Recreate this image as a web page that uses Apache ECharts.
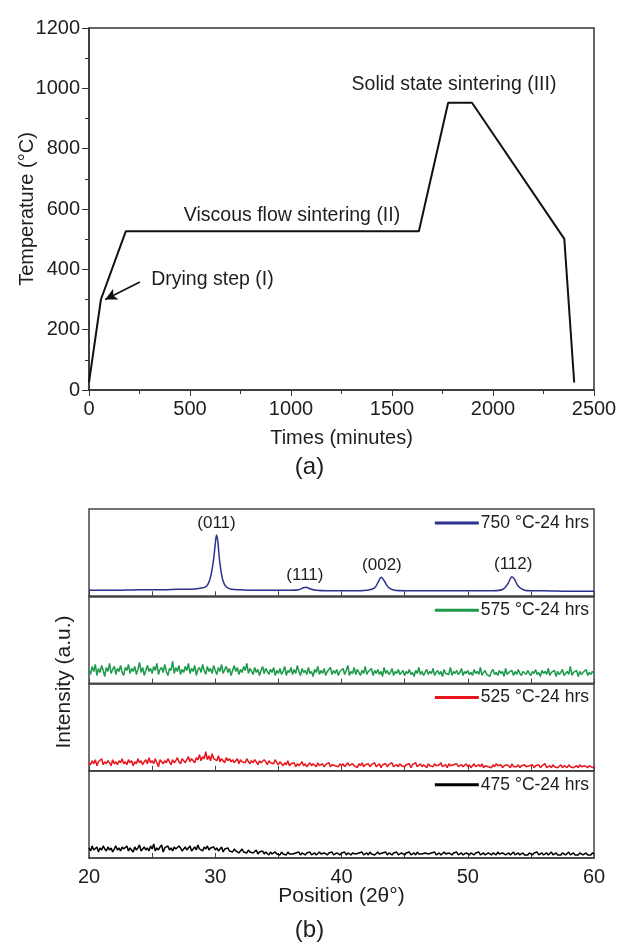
<!DOCTYPE html>
<html>
<head>
<meta charset="utf-8">
<script src="https://cdn.jsdelivr.net/npm/echarts@6/dist/echarts.min.js"></script>
<style>html,body{margin:0;padding:0;background:#fff;}#c{width:619px;height:948px;}</style>
</head>
<body>
<div id="c"></div>
<script>
// ---------- Panel (a): sintering profile ----------
const timeMin = [0, 59, 182, 1633, 1778, 1896, 2353, 2402];
const tempC   = [25, 300, 526, 526, 952, 952, 501, 25];
const stageLabels = ['Drying step (I)', 'Viscous flow sintering (II)', 'Solid state sintering (III)'];
const stageLabelX = [611, 1005, 1807];
const stageLabelY = [365, 577, 1011];
const arrowFrom = [252, 358];
const arrowTo = [80, 300];
const xTicksA = [0, 500, 1000, 1500, 2000, 2500];
const yTicksA = [0, 200, 400, 600, 800, 1000, 1200];

// ---------- Panel (b): XRD patterns ----------
const seriesNames = ['750 °C-24 hrs', '575 °C-24 hrs', '525 °C-24 hrs', '475 °C-24 hrs'];
const seriesColors = ['#2d3190', '#1c9a4a', '#e8141c', '#000000'];
const xTicksB = [20, 30, 40, 50, 60];
// 750 °C pattern (position, intensity)
const blueX = [20,22,24,26,27,28,28.8,29.3,29.6,29.85,30.0,30.1,30.2,30.35,30.6,30.9,31.3,32,33,34,35,36,36.6,37.0,37.2,37.5,38,39,40,41,42,42.6,42.9,43.15,43.4,43.7,44.2,45,46,48,50,52,52.8,53.2,53.5,53.7,54.0,54.5,55,56,58,60];
const blueY = [6,6,6.5,6.5,7,7,8,10,18,35,52,61,55,35,16,9,7,6.5,6,6,6,6,6.5,8.5,9,7.5,6,5.5,5.5,5.5,6,8,14,19,15,9,6,5.5,5.5,5.5,5.5,5.5,7,13,19.5,17,10,6,5.5,5.5,5,5];
const peakLabels = ['(011)', '(111)', '(002)', '(112)'];
const peakX = [30.1, 37.1, 43.2, 53.6];
const peakY = [61, 9, 19, 20];
// amorphous patterns sampled evenly from 20° to 60°
const green575 = [
14,9,17,12,19,8,15,11,18,13, 7,16,12,20,10,14,17,9,15,12, 18,11,8,16,13,19,10,15,12,17, 9,14,21,11,16,8,13,18,12,15,
10,17,13,20,9,14,16,11,19,12, 8,15,13,22,10,16,12,18,9,14, 11,17,13,20,10,15,12,18,8,14, 16,11,19,13,9,17,12,15,10,18,
13,9,16,12,19,10,14,17,11,15, 8,13,18,12,16,9,14,11,17,13, 20,10,15,12,9,16,11,14,8,13, 17,10,15,12,9,14,11,16,8,13,
10,15,9,12,17,8,13,11,16,9, 14,10,18,12,8,15,11,13,9,16, 10,12,7,14,11,17,9,13,10,15, 8,12,11,16,9,13,10,14,8,12,
11,15,9,13,18,8,12,10,16,9, 14,11,8,13,10,17,9,12,11,15, 8,13,10,14,9,12,7,16,10,13, 9,11,15,8,12,10,14,9,11,13,
8,12,10,14,9,11,7,13,10,16, 9,12,8,11,14,9,12,10,15,8, 11,13,9,12,7,14,10,11,9,16, 8,12,10,13,9,11,15,8,12,10,
13,9,11,8,14,10,12,9,16,8, 11,13,9,10,7,12,14,9,11,8, 13,10,12,7,15,9,11,10,13,8, 12,9,14,10,8,12,11,9,13,10,
8,12,10,14,9,11,7,13,10,12, 9,15,8,11,10,13,7,12,9,11, 14,8,10,12,9,17,8,11,10,13, 7,12,9,11,10,14,8,11,9,12,
10];
const red525 = [
8,6,10,7,11,5,9,8,12,6, 9,7,10,8,5,11,7,9,6,10, 8,12,7,9,6,11,8,10,5,9, 7,12,8,10,6,9,11,7,13,8,
10,7,12,8,4,11,9,7,10,8, 12,9,6,11,8,10,13,9,7,12, 10,8,11,14,9,12,10,8,13,11, 16,10,14,12,19,11,15,10,17,12,
13,10,15,9,12,11,8,13,10,12, 9,11,8,10,12,7,11,9,10,8, 12,9,7,10,8,11,9,6,10,8, 7,11,9,6,10,8,9,7,11,8,
6,9,7,5,8,6,10,5,7,6, 8,4,7,5,6,9,5,7,4,6, 8,5,7,6,4,8,5,6,7,4, 6,5,8,4,6,7,5,6,4,7,
5,7,4,6,8,5,4,7,5,6, 3,7,5,8,4,6,5,7,4,6, 5,8,4,5,7,3,6,5,7,4, 6,5,8,4,5,6,4,7,5,6,
4,6,5,7,3,6,5,8,4,5, 7,4,6,5,3,7,5,6,4,7, 5,4,6,8,4,5,6,3,7,5, 4,6,5,7,4,5,6,4,5,7,
4,6,3,5,7,4,5,6,4,7, 3,5,6,4,5,3,6,4,7,5, 4,6,3,5,4,6,5,3,7,4, 5,4,6,3,5,4,6,4,3,5,
4,6,3,5,4,6,3,5,4,7, 3,4,5,3,6,4,5,3,4,6, 3,5,4,3,6,4,5,3,4,5, 3,6,4,3,5,4,3,5,4,3,
4];
const black475 = [
10,7,12,8,9,11,6,10,8,12, 9,7,11,8,10,6,9,12,8,10, 7,11,9,8,12,7,10,9,6,11, 8,10,13,7,9,11,8,10,7,12,
9,14,7,10,8,11,13,6,10,9, 12,8,10,7,11,9,8,12,10,7, 9,11,8,10,12,7,9,11,8,13, 9,10,7,11,9,12,8,10,9,11,
8,10,7,9,11,6,9,8,10,7, 8,6,9,7,8,5,7,9,6,7, 5,8,6,7,5,6,8,4,6,5, 7,4,6,5,3,6,4,5,6,4,
5,3,6,4,5,3,6,4,5,4, 3,5,4,6,3,5,4,3,5,4, 6,3,4,5,3,4,6,4,3,5, 4,3,5,4,6,3,4,5,4,3,
5,4,6,3,5,4,3,5,6,4, 3,5,4,6,3,4,5,3,6,4, 5,3,4,6,4,3,5,4,6,3, 5,4,3,5,4,6,3,4,5,4,
3,5,4,6,3,4,5,3,6,4, 5,4,3,5,6,4,3,5,4,6, 3,4,5,3,4,6,4,3,5,4, 3,5,4,6,3,4,5,3,4,5,
4,3,5,4,3,5,4,6,3,4, 5,3,4,5,4,3,5,4,3,6, 4,3,5,4,3,4,5,3,4,6, 3,4,5,3,4,5,3,4,3,5,
4,3,5,4,6,3,4,5,3,4, 5,3,4,6,3,4,5,3,4,3, 5,4,3,4,6,3,4,5,3,4, 3,5,4,3,4,5,3,4,3,5,
4];

// ---------- build ----------
const FONT = '"Liberation Sans", Arial, sans-serif';
const TXT = '#1e1e1e';
const chart = echarts.init(document.getElementById('c'), null, {renderer: 'canvas'});

function pairs(xs, ys) { return xs.map((x, i) => [x, ys[i]]); }
function noisy(arr) {
  const x0 = xTicksB[0], x1 = xTicksB[xTicksB.length - 1];
  return arr.map((v, i) => [x0 + i * (x1 - x0) / (arr.length - 1), v]);
}

const panelTop0 = 509, panelH = 87.25;
const grids = [{left: 89, right: 25, top: 28, height: 362, show: true, borderColor: '#333', borderWidth: 1.5, outerBoundsMode: 'none', containLabel: false}];
for (let i = 0; i < 4; i++) {
  grids.push({left: 89, right: 25, top: panelTop0 + i * panelH, height: panelH, show: true, borderColor: '#444', borderWidth: 1.5, outerBoundsMode: 'none', containLabel: false});
}

const xAxes = [{
  gridIndex: 0, type: 'value', min: xTicksA[0], max: xTicksA[xTicksA.length - 1], interval: 500,
  axisLine: {lineStyle: {color: '#333', width: 1.5}},
  axisTick: {show: true, inside: false, length: 6, lineStyle: {color: '#333'}},
  minorTick: {show: true, splitNumber: 2, length: 4, lineStyle: {color: '#333'}},
  splitLine: {show: false},
  axisLabel: {fontSize: 20, color: TXT, fontFamily: FONT, margin: 9, formatter: v => String(v), showMinLabel: true, showMaxLabel: true, hideOverlap: false},
  name: 'Times (minutes)', nameLocation: 'middle', nameGap: 38, nameMoveOverlap: false,
  nameTextStyle: {fontSize: 20, color: TXT, fontFamily: FONT}
}];
const yAxes = [{
  gridIndex: 0, type: 'value', min: yTicksA[0], max: yTicksA[yTicksA.length - 1], interval: 200,
  axisLine: {lineStyle: {color: '#333', width: 1.5}},
  axisTick: {show: true, inside: false, length: 7, lineStyle: {color: '#333'}},
  minorTick: {show: true, splitNumber: 2, length: 4, lineStyle: {color: '#333'}},
  splitLine: {show: false},
  axisLabel: {fontSize: 20, color: TXT, fontFamily: FONT, margin: 9, formatter: v => String(v)},
  name: 'Temperature (°C)', nameLocation: 'middle', nameGap: 52, nameRotate: 90, nameMoveOverlap: false,
  nameTextStyle: {fontSize: 20, color: TXT, fontFamily: FONT}
}];
for (let i = 0; i < 4; i++) {
  const last = i === 3;
  xAxes.push({
    gridIndex: i + 1, type: 'value', min: xTicksB[0], max: xTicksB[xTicksB.length - 1], interval: 10,
    axisLine: {lineStyle: {color: '#444', width: 1.5}},
    axisTick: {show: true, inside: true, length: 5, lineStyle: {color: '#444'}},
    minorTick: {show: true, splitNumber: 2, length: 5, lineStyle: {color: '#444'}},
    splitLine: {show: false},
    axisLabel: {show: last, fontSize: 20, color: TXT, fontFamily: FONT, margin: 9, showMinLabel: true, showMaxLabel: true, hideOverlap: false},
    name: last ? 'Position (2θ°)' : '', nameLocation: 'middle', nameGap: 28, nameMoveOverlap: false,
    nameTextStyle: {fontSize: 21, color: TXT, fontFamily: FONT}
  });
  yAxes.push({gridIndex: i + 1, type: 'value', min: 0, max: 87, show: false});
}

const xrdData = [pairs(blueX, blueY), noisy(green575), noisy(red525), noisy(black475)];
const series = [
  {
    type: 'line', xAxisIndex: 0, yAxisIndex: 0, data: pairs(timeMin, tempC),
    symbol: 'none', lineStyle: {color: '#111', width: 2}, itemStyle: {color: '#111'}, silent: true
  },
  {
    type: 'scatter', xAxisIndex: 0, yAxisIndex: 0, symbolSize: 0, silent: true, itemStyle: {opacity: 1},
    data: stageLabelX.map((x, i) => ({value: [x, stageLabelY[i]], name: stageLabels[i]})),
    label: {show: true, position: 'inside', formatter: p => p.name, fontSize: 19.5, color: TXT, fontFamily: FONT},
    markLine: {
      silent: true, symbol: ['none', 'arrow'], symbolSize: [9, 12],
      lineStyle: {color: '#111', width: 1.5, type: 'solid', opacity: 1}, label: {show: false},
      data: [[{coord: arrowFrom}, {coord: arrowTo}]]
    }
  }
];
xrdData.forEach((d, i) => {
  series.push({
    name: seriesNames[i], type: 'line', xAxisIndex: i + 1, yAxisIndex: i + 1, data: d,
    symbol: 'none', smooth: i === 0 ? 0.35 : false,
    lineStyle: {color: seriesColors[i], width: i === 0 ? 1.5 : 1.5}, itemStyle: {color: seriesColors[i]}, silent: true
  });
});
series.push({
  type: 'scatter', xAxisIndex: 1, yAxisIndex: 1, symbolSize: 0, silent: true, itemStyle: {opacity: 1},
  data: peakX.map((x, i) => ({value: [x, peakY[i]], name: peakLabels[i]})),
  label: {show: true, position: 'top', distance: 3, formatter: p => p.name, fontSize: 17, color: TXT, fontFamily: FONT}
});

const legends = seriesNames.map((n, i) => ({
  data: [n], right: 30, top: panelTop0 + i * panelH + 5, orient: 'horizontal',
  icon: 'rect', itemWidth: 44, itemHeight: 3, itemGap: 2, padding: 0, selectedMode: false,
  textStyle: {fontSize: 17.5, color: TXT, fontFamily: FONT, padding: [0, 0, 0, -3]}
}));

chart.setOption({
  backgroundColor: '#fff',
  animation: false,
  grid: grids,
  xAxis: xAxes,
  yAxis: yAxes,
  legend: legends,
  series: series,
  graphic: [
    {type: 'text', left: 'center', top: 455, style: {text: '(a)', fontSize: 24, fill: TXT, fontFamily: FONT}},
    {type: 'text', left: 'center', top: 918, style: {text: '(b)', fontSize: 24, fill: TXT, fontFamily: FONT}},
    {type: 'text', x: 64, y: 682, rotation: Math.PI / 2,
     style: {text: 'Intensity (a.u.)', fontSize: 21, fill: TXT, fontFamily: FONT, align: 'center', verticalAlign: 'middle'}}
  ]
});
</script>
</body>
</html>
